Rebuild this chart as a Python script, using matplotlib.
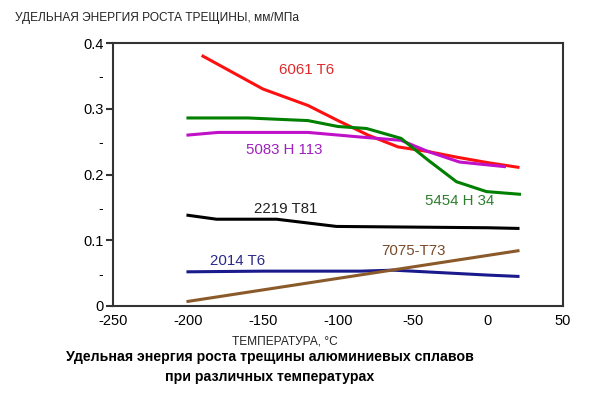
import matplotlib.pyplot as plt
from matplotlib.ticker import FixedLocator, FixedFormatter

plt.rcParams['font.family'] = ['Liberation Sans', 'DejaVu Sans']

# 6061 T6
t_6061 = [-190, -150, -120, -100, -80, -60, -40, -20, 0, 20]
e_6061 = [0.380, 0.330, 0.305, 0.282, 0.260, 0.242, 0.235, 0.226, 0.218, 0.211]
# 5454 H 34
t_5454 = [-200, -160, -120, -100, -81, -58, -40, -21, -1, 21]
e_5454 = [0.286, 0.286, 0.282, 0.273, 0.270, 0.255, 0.222, 0.189, 0.174, 0.170]
# 5083 H 113
t_5083 = [-200, -180, -120, -85, -58, -40, -19, 11]
e_5083 = [0.260, 0.264, 0.264, 0.257, 0.252, 0.235, 0.219, 0.212]
# 2219 T81
t_2219 = [-200, -181, -141, -101, -50, 0, 20]
e_2219 = [0.138, 0.132, 0.132, 0.121, 0.120, 0.119, 0.118]
# 2014 T6
t_2014 = [-200, -150, -85, -63, 0, 20]
e_2014 = [0.052, 0.053, 0.053, 0.0545, 0.047, 0.045]
# 7075-T73
t_7075 = [-200, 20]
e_7075 = [0.007, 0.084]

fig = plt.figure(figsize=(6, 3.99), dpi=100)
ax = fig.add_axes([0.1883, 0.2331, 0.75, 0.6591])

ax.plot(t_6061, e_6061, color="#ff1010", lw=2.2)
ax.plot(t_5083, e_5083, color="#c010c8", lw=2.2)
ax.plot(t_5454, e_5454, color="#008000", lw=2.2)
ax.plot(t_2219, e_2219, color="black", lw=2.2)
ax.plot(t_2014, e_2014, color="#1a1a8c", lw=2.2)
ax.plot(t_7075, e_7075, color="#8b5a2b", lw=2.2)

lab = dict(fontsize=10.8, ha="center", va="center")
ax.text(-121, 0.359, "6061 T6", color="#e02a2a", **lab)
ax.text(-136, 0.237, "5083 H 113", color="#a020c0", **lab)
ax.text(-19, 0.159, "5454 H 34", color="#2e7d2e", **lab)
ax.text(-135, 0.147, "2219 T81", color="#222222", **lab)
ax.text(-167, 0.0685, "2014 T6", color="#2a2a8a", **lab)
ax.text(-50, 0.084, "7075-T73", color="#7a4a2a", **lab)

ax.set_xlim(-250, 50)
ax.set_ylim(0, 0.4)
ax.set_xticks([-250, -200, -150, -100, -50, 0, 50])
ax.set_xticklabels(["-250", "-200", "-150", "-100", "-50", "0", "50"])
ax.set_yticks([0, 0.1, 0.2, 0.3, 0.4])
ax.set_yticklabels(["0", "0.1", "0.2", "0.3", "0.4"])
ax.yaxis.set_minor_locator(FixedLocator([0.05, 0.15, 0.25, 0.35]))
ax.yaxis.set_minor_formatter(FixedFormatter(["-"] * 4))
ax.tick_params(axis="y", which="major", length=5, width=1.5, labelsize=10.5, pad=2, color="#333333")
ax.tick_params(axis="y", which="minor", length=0, labelsize=10, pad=7)
ax.tick_params(axis="x", length=0, labelsize=10.5, pad=6)

for s in ax.spines.values():
    s.set_linewidth(1.5)
    s.set_color("#333333")

ax.set_xlabel("ТЕМПЕРАТУРА, °C", fontsize=8.6, labelpad=5, color="#222222")
ax.xaxis.label.set_x(0.382)
fig.text(0.025, 0.955, "УДЕЛЬНАЯ ЭНЕРГИЯ РОСТА ТРЕЩИНЫ, мм/МПа", fontsize=8.6,
         ha="left", va="center", color="#222222")
fig.text(0.45, 0.105, "Удельная энергия роста трещины алюминиевых сплавов",
         fontsize=10.2, fontweight="bold", ha="center", va="center")
fig.text(0.45, 0.055, "при различных температурах",
         fontsize=10.2, fontweight="bold", ha="center", va="center")

fig.savefig("out.png", dpi=100)
